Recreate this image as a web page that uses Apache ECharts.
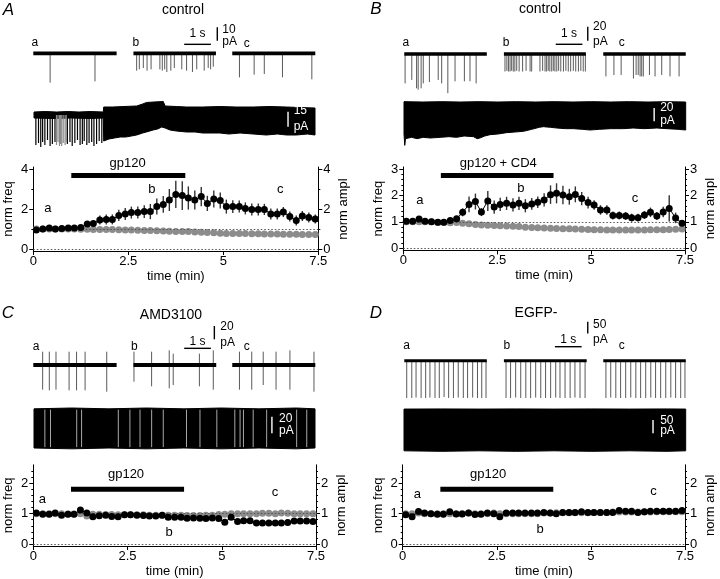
<!DOCTYPE html>
<html><head><meta charset="utf-8">
<script src="https://cdn.jsdelivr.net/npm/echarts@6/dist/echarts.min.js"></script>
<style>html,body{margin:0;padding:0;background:#fff}#c{width:720px;height:579px}</style>
</head><body><div id="c"></div>
<script>
// ================= DATA =================
// sampling times of the summary plots (min)
const timeMin = [0.08,0.25,0.42,0.58,0.75,0.92,1.08,1.25,1.42,1.58,1.75,1.92,2.08,2.25,2.42,2.58,2.75,2.92,3.08,3.25,3.42,3.58,3.75,3.92,4.08,4.25,4.42,4.58,4.75,4.92,5.08,5.25,5.42,5.58,5.75,5.92,6.08,6.25,6.42,6.58,6.75,6.92,7.08,7.25,7.42];

// Panel A (control)
const freqA = [0.95,1.0,1.05,1.0,1.03,1.05,1.05,1.07,1.25,1.28,1.45,1.48,1.48,1.68,1.75,1.82,1.82,1.87,1.87,2.12,2.23,2.45,2.73,2.67,2.55,2.45,2.62,2.28,2.5,2.42,2.12,2.12,2.12,2.03,1.98,1.98,1.98,1.75,1.75,1.85,1.62,1.42,1.65,1.58,1.5];
const errA  = [0.03,0.03,0.04,0.04,0.04,0.05,0.05,0.06,0.1,0.12,0.22,0.25,0.25,0.28,0.3,0.3,0.3,0.32,0.38,0.4,0.42,0.55,0.68,0.72,0.58,0.48,0.48,0.38,0.42,0.4,0.35,0.32,0.3,0.3,0.3,0.3,0.28,0.28,0.28,0.25,0.25,0.25,0.25,0.25,0.22];
const amplA = [1,1,1,1,1,1,1,0.99,0.99,0.98,0.98,0.97,0.97,0.96,0.95,0.95,0.94,0.93,0.92,0.91,0.9,0.89,0.88,0.88,0.87,0.85,0.84,0.82,0.81,0.79,0.78,0.78,0.77,0.77,0.76,0.76,0.75,0.75,0.75,0.74,0.74,0.74,0.73,0.73,0.73];
// Panel B (control, gp120 + CD4)
const freqB = [1.02,1.02,1.11,1.02,1.0,0.99,0.99,1.05,1.12,1.36,1.66,1.77,1.37,1.79,1.56,1.66,1.7,1.64,1.7,1.61,1.68,1.74,1.83,2.03,2.08,2.02,1.95,2.04,1.88,1.73,1.64,1.45,1.45,1.24,1.24,1.22,1.16,1.16,1.26,1.36,1.22,1.37,1.51,1.15,0.95];
const errB  = [0.03,0.03,0.04,0.03,0.03,0.03,0.04,0.05,0.08,0.15,0.3,0.3,0.15,0.38,0.25,0.25,0.25,0.25,0.25,0.25,0.22,0.22,0.25,0.35,0.38,0.35,0.3,0.3,0.25,0.22,0.18,0.18,0.18,0.15,0.15,0.15,0.15,0.15,0.15,0.18,0.15,0.2,0.5,0.2,0.12];
const amplB = [1,1,1,1,1,0.98,0.98,0.97,0.98,0.95,0.93,0.9,0.88,0.87,0.86,0.85,0.84,0.83,0.82,0.8,0.79,0.78,0.77,0.76,0.75,0.74,0.74,0.73,0.72,0.71,0.7,0.7,0.69,0.69,0.69,0.69,0.69,0.69,0.69,0.7,0.7,0.7,0.71,0.72,0.73];
// Panel C (AMD3100)
const freqC = [1.02,0.98,0.98,1.02,0.95,0.98,0.98,1.12,1.02,0.9,0.93,0.95,0.91,0.9,0.96,0.96,0.95,0.94,0.92,0.92,0.95,0.88,0.88,0.88,0.85,0.86,0.85,0.84,0.86,0.84,0.72,0.88,0.74,0.77,0.77,0.69,0.69,0.69,0.69,0.69,0.71,0.76,0.76,0.76,0.74];
const amplC = [1,1,1,1,1,0.99,0.99,1.0,0.92,0.98,0.98,0.97,0.97,0.96,0.96,0.96,0.96,0.96,0.95,0.95,0.95,0.95,0.95,0.95,0.94,0.94,0.94,0.95,0.95,0.97,0.98,1,1,1,1,1,1.01,1.01,1,1.02,1.01,1,1,1,1];
// Panel D (EGFP-)
const freqD = [0.96,0.9,1.07,1.02,1.0,0.98,0.98,1.06,0.99,0.99,1.02,0.97,0.98,1.02,1.0,0.9,1.02,1.02,1.02,1.02,1.02,1.02,1.04,1.02,1.0,1.04,1.04,1.04,1.06,1.04,1.04,1.04,1.04,1.04,1.1,1.08,1.08,1.04,1.06,1.08,1.08,1.08,1.08,1.08,1.1];
const amplD = [1,1,1.02,1,1,1,1,1,1,1,1.02,1,1,1,1.02,1,1,1,1,1,1,1,1.02,1.02,1.03,1.03,1.03,1.03,1.03,1.03,1.04,1.04,1.04,1.05,1.05,1.05,1.05,1.05,1.05,1.05,1.06,1.06,1.06,1.06,1.06];

// tick values
const xTicks = [0,2.5,5,7.5];
const yTicksA = [0,2,4], yMinorA = [1,3];
const yTicksB = [0,1,2,3], yMinorB = [0.2,0.4,0.6,0.8,1.2,1.4,1.6,1.8,2.2,2.4,2.6,2.8];
const yTicksC = [0,1,2], yMinorC = [0.2,0.4,0.6,0.8,1.2,1.4,1.6,1.8,2.2,2.4];
const drugWindow = [1,4];  // min

// example sweeps: segments [start,end] (s) and events [t (s), amplitude (pA)] or [t, up, down]
const sweepSegA = [[0,3.12],[3.75,6.84],[7.45,10.56]];
const sweepEvA = [[0.63,-22],[2.31,-21],
  [3.87,-13],[3.97,-12],[4.12,-11],[4.26,-13],[4.41,-12],[4.74,-12],[4.83,-13],[4.92,-12],[5.0,-14],[5.15,-13],[5.28,-11],[5.56,-12],[5.74,-13],[5.96,-14],[6.12,-12],[6.4,-13],[6.55,-11],[6.64,-12],[6.74,-10],
  [7.72,-18],[8.27,-16],[8.65,-15.5],[9.33,-18],[10.43,-19.5]];
const sweepSegB = [[0,3.09],[3.73,6.8],[7.45,10.54]];
const sweepEvB = [[0.03,-42],[0.28,-37],[0.46,-49],[0.52,-51],[0.63,-49],[0.71,-42],[0.94,-40],[1.27,-37],[1.4,-42],[1.63,-56],[1.9,-39],[2.25,-39],[2.46,-39],[2.69,-42],
  [3.77,-25],[3.84,-24],[3.9,-25],[3.96,-25],[4.02,-24],[4.08,-25],[4.14,-25],[4.21,-24],[4.3,-25],[4.43,-25],[4.56,-24],[4.71,-25],[4.77,-25],[5.08,-25],[5.18,-24],[5.27,-25],[5.33,-25],[5.39,-24],[5.45,-25],[5.52,-25],[5.58,-24],[5.64,-25],[5.71,-25],[5.78,-24],[5.86,-25],[5.96,-25],[6.05,-24],[6.14,-25],[6.23,-25],[6.33,-24],[6.42,-25],[6.52,-25],[6.61,-24],[6.7,-25],[6.78,-25],
  [7.55,-32],[7.85,-30],[8.12,-30],[8.58,-35],[8.68,-30],[8.76,-30],[8.83,-32],[8.89,-32],[8.95,-32],[9.18,-30],[9.39,-32],[9.64,-30],[9.95,-32],[10.29,-32]];
const sweepSegC = [[0,3.12],[3.75,6.85],[7.45,10.56]];
const sweepEvC = [[0.35,20,-37],[0.6,20,-38],[0.85,20,-37],[1.34,20,-38],[1.62,20,-38],[1.94,20,-38],[2.75,20,-40],
  [3.77,20,-25],[4.43,20,-32],[5.09,22,-35],[5.24,17,-30],[6.22,17,-32],[6.74,22,-37],
  [7.72,20,-37],[8.18,20,-37],[8.61,20,-30],[9.09,20,-37],[9.61,22,-37],[10.51,20,-40]];
const sweepSegD = [[0,3.09],[3.73,6.83],[7.45,10.54]];
const sweepEvD = [[0.09,-160],[0.28,-160],[0.44,-158],[0.63,-160],[0.8,-160],[0.96,-158],[1.15,-160],[1.31,-160],[1.49,-156],[1.66,-160],[1.84,-160],[2.02,-158],[2.21,-160],[2.37,-160],[2.56,-158],[2.74,-160],[2.9,-160],[3.06,-160],
  [3.81,-160],[3.98,-160],[4.17,-158],[4.36,-160],[4.55,-160],[4.73,-160],[4.92,-158],[5.11,-160],[5.29,-160],[5.48,-160],[5.67,-158],[5.83,-160],[6.02,-160],[6.21,-160],[6.39,-158],[6.58,-160],[6.77,-160],
  [7.55,-160],[7.73,-158],[7.92,-160],[8.1,-160],[8.29,-160],[8.48,-158],[8.67,-160],[8.85,-160],[9.04,-160],[9.23,-158],[9.41,-160],[9.6,-160],[9.79,-160],[9.98,-158],[10.16,-160],[10.35,-160],[10.51,-160]];

// continuous recordings: envelopes [t (min), pA]
const longTopA = [[0,3],[0.3,3.5],[0.6,3],[0.9,3.5],[1.2,3],[1.5,3.5],[1.85,3],[1.86,8],[2.1,8],[2.4,8.5],[2.74,9],[2.9,11],[3.0,12.5],[3.2,13],[3.45,13.5],[3.5,9],[3.8,8.5],[4.07,8],[4.5,8],[4.96,8.5],[5.4,8],[5.85,8],[6.3,8.5],[6.74,8],[7.1,7.5],[7.5,7]];
const longBotA = [[0,-3],[0.5,-3.5],[1.0,-3],[1.5,-3.5],[1.85,-3],[1.86,-26],[2.0,-24],[2.15,-23],[2.3,-22],[2.45,-22],[2.6,-21],[2.74,-20],[2.9,-18],[3.0,-17],[3.18,-15],[3.3,-14],[3.41,-12],[3.5,-13],[3.63,-15],[3.8,-16],[4.07,-17],[4.3,-17],[4.5,-18],[4.96,-18],[5.2,-19],[5.5,-18],[5.85,-19],[6.2,-20],[6.5,-19],[6.74,-20],[7.0,-20],[7.3,-19],[7.5,-20]];
const longEvBlackA = [[0.05,-30],[0.12,-28],[0.18,-32],[0.23,-27],[0.29,-30],[0.36,-25],[0.43,-31],[0.49,-29],[0.56,-27],[0.89,-29],[0.96,-27],[1.02,-31],[1.09,-28],[1.16,-25],[1.23,-30],[1.29,-29],[1.34,-26],[1.41,-30],[1.47,-28],[1.54,-27],[1.6,-31],[1.67,-29],[1.74,-26],[1.81,-28]];
const longEvGrayA = [[0.6,-30],[0.64,-27],[0.68,-31],[0.71,-29],[0.74,-31],[0.78,-28],[0.83,-30],[0.86,-27]];
const longTopB = [[0,3.5],[0.5,3],[1,3.5],[1.5,3],[2,3.5],[2.5,3],[3,3.5],[3.5,3],[4,3.5],[4.5,3],[5,3.5],[5.5,3],[6,3.5],[6.5,3],[7,3.5],[7.5,3]];
const longBotB = [[0,-45],[0.02,-62],[0.04,-52],[0.2,-50],[0.35,-52],[0.51,-50],[0.7,-51],[0.96,-50],[1.2,-49],[1.4,-50],[1.6,-48],[1.85,-49],[1.95,-52],[2.02,-51],[2.15,-48],[2.29,-46],[2.5,-45],[2.73,-43],[2.95,-42],[3.18,-41],[3.4,-38],[3.6,-35],[3.71,-34],[3.9,-35],[4.07,-36],[4.3,-37],[4.51,-37],[4.75,-38],[4.95,-39],[5.2,-38],[5.5,-37],[5.84,-37],[6.1,-36],[6.4,-37],[6.73,-36],[7.0,-37],[7.3,-38],[7.5,-39]];
const longTopC = [[0,23],[1,24],[2,23],[3,24],[4,23],[5,24],[6,23],[7,24],[7.5,23]];
const longBotC = [[0,-24],[1,-25],[2,-24],[3,-25],[4,-24],[5,-25],[6,-24],[7,-25],[7.5,-24]];
const longGapsC = [0.29,0.44,1.14,1.27,2.25,2.56,2.83,3.14,3.45,4.07,4.43,4.88,5.36,5.5,5.59,5.85,6.21,7.01,7.28];
const longTopD = [[0,3.5],[1,4],[2,3.5],[3,4],[4,3.5],[5,4],[6,3.5],[7,4],[7.5,3.5]];
const longBotD = [[0,-153],[1,-155],[2,-153],[3,-155],[4,-153],[5,-155],[6,-153],[7,-155],[7.5,-153]];

// scale bar sizes
const barSec = 1;
const sweepBarPA = {A:10, B:20, C:20, D:50};
const longBarPA = {A:15, B:20, C:20, D:50};

// ================= BUILD =================
const FONT = '"Liberation Sans", Arial, Helvetica, sans-serif';
const grids = [], xAxes = [], yAxes = [], series = [];
const addGrid = g => (grids.push(g), grids.length - 1);
const addX = a => (xAxes.push(a), xAxes.length - 1);
const addY = a => (yAxes.push(a), yAxes.length - 1);
const hidden = (gi, min, max) => ({gridIndex: gi, type: 'value', min, max, show: false, splitLine: {show: false}});

function seg(xi, yi, data, color, width, z) {
  return {type: 'custom', xAxisIndex: xi, yAxisIndex: yi, silent: true, animation: false, z: z || 2, data,
    renderItem: (p, api) => {
      const a = api.coord([api.value(0), api.value(1)]), b = api.coord([api.value(2), api.value(3)]);
      return {type: 'line', shape: {x1: a[0], y1: a[1], x2: b[0], y2: b[1]}, style: {stroke: color, lineWidth: width, lineCap: 'butt'}};
    }};
}
function txt(xi, yi, pts, texts, size, align, color, z) {
  return {type: 'custom', xAxisIndex: xi, yAxisIndex: yi, silent: true, animation: false, z: z || 6, data: pts,
    renderItem: (p, api) => {
      const c = api.coord([api.value(0), api.value(1)]);
      return {type: 'text', x: c[0], y: c[1], style: {text: texts[p.dataIndex], fill: color || '#000',
        font: size + 'px ' + FONT, align: align || 'center', verticalAlign: 'middle'}};
    }};
}
function envelope(xi, yi, top, bot, z) {
  return {type: 'custom', xAxisIndex: xi, yAxisIndex: yi, silent: true, animation: false, z: z || 2, data: [[top[0][0], top[0][1]]],
    renderItem: (p, api) => {
      const pts = top.map(q => api.coord(q)).concat(bot.slice().reverse().map(q => api.coord(q)));
      return {type: 'polygon', shape: {points: pts}, style: {fill: '#000', stroke: '#000', lineWidth: 1}};
    }};
}

function buildPanel(P) {
  // ---- example sweeps ----
  const S = P.sweep;
  const gS = addGrid({left: S.left, top: S.top, width: S.width, height: S.height});
  const xS = addX(hidden(gS, 0, S.xmax)), yS = addY(hidden(gS, S.ymin, S.ymax));
  series.push(seg(xS, yS, P.sweepEv.map(e => e.length === 3 ? [e[0], e[1], e[0], e[2]] : [e[0], 0, e[0], e[1]]), '#5a5a5a', 1, 2));
  series.push(seg(xS, yS, P.sweepSeg.map(s => [s[0], 0, s[1], 0]), '#000', S.baseWidth, 3));
  series.push(seg(xS, yS, [[S.barT, S.barY, S.barT + barSec, S.barY], [S.vT, S.vY, S.vT, S.vY + P.sweepPA]], '#000', 1.4, 3));
  series.push(txt(xS, yS, [[S.barT + barSec / 2, S.sTxtY]], ['1 s'], 12, 'center'));
  series.push(txt(xS, yS, [[S.nT, S.vY + P.sweepPA - S.nOff], [S.nT, S.pAY]], [String(P.sweepPA), 'pA'], 12, 'left'));
  series.push(txt(xS, yS, S.letters, ['a', 'b', 'c'], 12, 'center'));
  // ---- continuous trace ----
  const Lg = P.long;
  const gL = addGrid({left: Lg.left, top: Lg.top, width: Lg.width, height: Lg.height});
  const xL = addX(hidden(gL, 0, 7.5)), yL = addY(hidden(gL, Lg.ymin, Lg.ymax));
  series.push(envelope(xL, yL, P.longTop, P.longBot, 2));
  if (P.longEvBlack) series.push(seg(xL, yL, P.longEvBlack.map(e => [e[0], 0, e[0], e[1]]), '#000', 1.2, 3));
  if (P.longEvGray) series.push(seg(xL, yL, P.longEvGray.map(e => [e[0], 0, e[0], e[1]]), '#8a8a8a', 1.2, 3));
  if (P.longGaps) series.push(seg(xL, yL, P.longGaps.map(t => [t, Lg.gapTop, t, Lg.gapBot]), '#a8a8a8', 1, 3));
  series.push(seg(xL, yL, [[Lg.vT, Lg.vY, Lg.vT, Lg.vY + P.longPA]], '#fff', 1.4, 4));
  series.push(txt(xL, yL, [[Lg.nT, Lg.nY], [Lg.nT, Lg.pY]], [String(P.longPA), 'pA'], 12, 'left', '#fff', 5));
  // ---- summary plot ----
  const M = P.sum;
  const gM = addGrid({left: M.left, top: M.top, width: M.width, height: M.height});
  const axisTxt = {color: '#000', fontSize: 13, fontFamily: FONT};
  const xM = addX({gridIndex: gM, type: 'value', min: 0, max: 7.5, interval: 2.5,
    axisLine: {onZero: false, lineStyle: {color: '#000', width: 1}},
    axisTick: {length: 4, lineStyle: {color: '#000'}},
    axisLabel: Object.assign({margin: 4, customValues: xTicks}, axisTxt), splitLine: {show: false},
    name: 'time (min)', nameLocation: 'middle', nameGap: 19, nameTextStyle: axisTxt});
  const mkY = (pos, name, gap) => addY({gridIndex: gM, type: 'value', position: pos, min: M.ymin, max: M.ymax,
    axisLine: {show: true, onZero: false, lineStyle: {color: '#000', width: 1}},
    axisTick: {length: 4, customValues: M.ticks, lineStyle: {color: '#000'}},
    axisLabel: Object.assign({margin: 5, customValues: M.ticks}, axisTxt), splitLine: {show: false},
    name, nameLocation: 'middle', nameGap: gap, nameRotate: 90, nameTextStyle: axisTxt});
  const mkMinor = pos => addY({gridIndex: gM, type: 'value', position: pos, min: M.ymin, max: M.ymax,
    axisLine: {show: false, onZero: false}, axisTick: {length: 2, customValues: M.minor, lineStyle: {color: '#000'}},
    axisLabel: {show: false, customValues: M.minor}, splitLine: {show: false}});
  const yLft = mkY('left', 'norm freq', 18);
  const yRgt = mkY('right', 'norm ampl', 19);
  mkMinor('left'); mkMinor('right');
  series.push({type: 'line', xAxisIndex: xM, yAxisIndex: yRgt, silent: true, animation: false, z: 3,
    data: timeMin.map((t, i) => [t, P.ampl[i]]), symbol: 'circle', symbolSize: 7,
    itemStyle: {color: '#8c8c8c'}, lineStyle: {color: '#8c8c8c', width: 1}});
  if (P.err) series.push(seg(xM, yLft, timeMin.map((t, i) => [t, P.freq[i] - P.err[i], t, P.freq[i] + P.err[i]]), '#333', 1.4, 4));
  series.push({type: 'line', xAxisIndex: xM, yAxisIndex: yLft, silent: true, animation: false, z: 5,
    data: timeMin.map((t, i) => [t, P.freq[i]]), symbol: 'circle', symbolSize: 7,
    itemStyle: {color: '#000'}, lineStyle: {color: '#000', width: 1},
    markLine: {silent: true, symbol: ['none', 'none'], label: {show: false}, animation: false,
      lineStyle: {type: [1.5, 2], color: '#555', width: 1}, data: [{yAxis: 0}, {yAxis: 1}]}});
  series.push(seg(xM, yLft, [[drugWindow[0], M.drugY, drugWindow[1], M.drugY]], '#000', 5, 6));
  series.push(txt(xM, yLft, [M.drugTxt], [P.drugName], 13, 'center'));
  series.push(txt(xM, yLft, M.letters, ['a', 'b', 'c'], 13, 'center'));
}

const panels = [
  {sweepSeg: sweepSegA, sweepEv: sweepEvA, sweepPA: sweepBarPA.A, longTop: longTopA, longBot: longBotA, longEvBlack: longEvBlackA, longEvGray: longEvGrayA, longPA: longBarPA.A,
   freq: freqA, err: errA, ampl: amplA, drugName: 'gp120',
   sweep: {left: 33.3, top: 20, width: 282, height: 70, xmax: 10.56, ymin: -27.5, ymax: 25, baseWidth: 3.6,
     barT: 5.65, barY: 6.75, vT: 6.89, vY: 9.5, sTxtY: 14.5, nT: 7.08, nOff: 2, pAY: 8.7, letters: [[0.06, 8.25], [3.84, 8.25], [7.99, 7.5]]},
   long: {left: 34, top: 100, width: 281, height: 50, ymin: -35, ymax: 15, vT: 6.78, vY: -11.7, nT: 6.93, nY: 4.5, pY: -11.5},
   sum: {left: 33.3, top: 167, width: 285, height: 84, ymin: -0.1, ymax: 4.1, ticks: yTicksA, minor: yMinorA, drugY: 3.67, drugTxt: [2.48, 4.29],
     letters: [[0.38, 2.03], [3.12, 3.0], [6.5, 3.0]]}},
  {sweepSeg: sweepSegB, sweepEv: sweepEvB, sweepPA: sweepBarPA.B, longTop: longTopB, longBot: longBotB, longPA: longBarPA.B,
   freq: freqB, err: errB, ampl: amplB, drugName: 'gp120 + CD4',
   sweep: {left: 404.3, top: 20, width: 282, height: 80, xmax: 10.56, ymin: -65.7, ymax: 48.6, baseWidth: 3.4,
     barT: 5.67, barY: 13.9, vT: 6.87, vY: 19, sTxtY: 29.6, nT: 7.07, nOff: 0, pAY: 17.6, letters: [[0.06, 16.7], [3.81, 16.7], [8.14, 16.7]]},
   long: {left: 404, top: 100, width: 281.7, height: 50, ymin: -69, ymax: 6, vT: 6.66, vY: -26, nT: 6.82, nY: -6, pY: -25.5},
   sum: {left: 403.3, top: 166.9, width: 281.7, height: 83.5, ymin: -0.08, ymax: 3.08, ticks: yTicksB, minor: yMinorB, drugY: 2.75, drugTxt: [2.53, 3.22],
     letters: [[0.44, 1.83], [3.13, 2.27], [6.17, 1.89]]}},
  {sweepSeg: sweepSegC, sweepEv: sweepEvC, sweepPA: sweepBarPA.C, longTop: longTopC, longBot: longBotC, longGaps: longGapsC, longPA: longBarPA.C,
   freq: freqC, ampl: amplC, drugName: 'gp120',
   sweep: {left: 33.3, top: 320, width: 282, height: 80, xmax: 10.56, ymin: -52.5, ymax: 67.5, baseWidth: 4,
     barT: 5.65, barY: 25, vT: 6.78, vY: 38.5, sTxtY: 35, nT: 7.0, nOff: 1, pAY: 33, letters: [[0.1, 27.4], [3.78, 27.4], [7.99, 27.4]]},
   long: {left: 34, top: 404, width: 281, height: 50, ymin: -31.2, ymax: 28.8, vT: 6.35, vY: -6.4, nT: 6.54, nY: 10.8, pY: -3.6, gapTop: 22, gapBot: -23},
   sum: {left: 33.3, top: 464.8, width: 282.7, height: 82.1, ymin: -0.06, ymax: 2.6, ticks: yTicksC, minor: yMinorC, drugY: 1.8, drugTxt: [2.46, 2.27],
     letters: [[0.24, 1.46], [3.6, 0.38], [6.41, 1.7]]}},
  {sweepSeg: sweepSegD, sweepEv: sweepEvD, sweepPA: sweepBarPA.D, longTop: longTopD, longBot: longBotD, longPA: longBarPA.D,
   freq: freqD, ampl: amplD, drugName: 'gp120',
   sweep: {left: 404.3, top: 320, width: 282, height: 85, xmax: 10.56, ymin: -190, ymax: 174.5, baseWidth: 3,
     barT: 5.64, barY: 60, vT: 6.87, vY: 117, sTxtY: 88.8, nT: 7.07, nOff: 14, pAY: 89, letters: [[0.09, 63], [3.84, 63], [8.14, 63]]},
   long: {left: 404, top: 404, width: 281.7, height: 50, ymin: -165, ymax: 22.5, vT: 6.63, vY: -87.5, nT: 6.82, nY: -41, pY: -79},
   sum: {left: 402.7, top: 464.8, width: 282.3, height: 82.1, ymin: -0.06, ymax: 2.6, ticks: yTicksC, minor: yMinorC, drugY: 1.8, drugTxt: [2.27, 2.27],
     letters: [[0.39, 1.62], [3.65, 0.49], [6.66, 1.73]]}}
];
panels.forEach(buildPanel);

const head = (x, y, text, font) => ({type: 'text', x, y, silent: true, style: {text, font, fill: '#000', align: 'center', verticalAlign: 'middle'}});
const chart = echarts.init(document.getElementById('c'), null, {renderer: 'canvas'});
chart.setOption({
  animation: false, backgroundColor: '#fff',
  grid: grids, xAxis: xAxes, yAxis: yAxes, series,
  graphic: [
    head(8.5, 10, 'A', 'italic 17px ' + FONT), head(183, 10, 'control', '14px ' + FONT),
    head(376, 9, 'B', 'italic 17px ' + FONT), head(540, 9, 'control', '14px ' + FONT),
    head(8, 313, 'C', 'italic 17px ' + FONT), head(171, 315, 'AMD3100', '14px ' + FONT),
    head(376, 313, 'D', 'italic 17px ' + FONT), head(536, 313, 'EGFP-', '14px ' + FONT)
  ]
});
</script></body></html>
